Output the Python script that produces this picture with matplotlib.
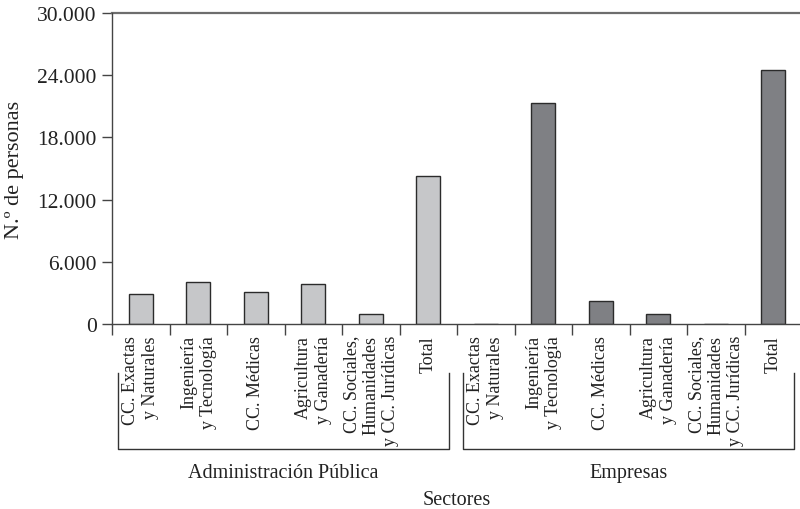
import numpy as np
import matplotlib
matplotlib.use("Agg")
import matplotlib.pyplot as plt
import matplotlib.transforms as mtransforms

plt.rcParams['font.family'] = ['Liberation Serif', 'DejaVu Serif']

# data
categorias = ["CC. Exactas\ny Naturales", "Ingeniería\ny Tecnología", "CC. Médicas",
              "Agricultura\ny Ganadería", "CC. Sociales,\nHumanidades\ny CC. Jurídicas", "Total"]
grupos = ["Administración Pública", "Empresas"]
admin_publica = [2900, 4020, 3090, 3830, 960, 14300]
empresas = [0, 21320, 2250, 930, 0, 24530]
yticks = [0, 6000, 12000, 18000, 24000, 30000]

color_admin = '#c6c7c9'
color_emp = '#7f8084'

fig = plt.figure(figsize=(8, 5.1), dpi=100)
ax = fig.add_axes([112/800, 185/510, 690/800, 311/510])

n = len(categorias)
x_admin = np.arange(n)
x_emp = np.arange(n) + n
ax.bar(x_admin, admin_publica, width=0.42, color=color_admin, edgecolor='#2b2b2b', linewidth=1, zorder=2)
ax.bar(x_emp, empresas, width=0.42, color=color_emp, edgecolor='#2b2b2b', linewidth=1, zorder=2)

ax.set_xlim(-0.5, 2 * n - 0.5)
ax.set_ylim(0, 30000)
ax.set_yticks(yticks)
ax.set_yticklabels([f"{v:,.0f}".replace(',', '.') for v in yticks], fontsize=15.5, color='#222222')
ax.tick_params(axis='y', direction='out', length=7, width=1, color='#444444', pad=4)

# boundary ticks (major, no labels) and centred labels (minor, no tick)
ax.set_xticks(np.arange(0, 2 * n + 1) - 0.5)
ax.set_xticklabels([])
ax.set_xticks(np.arange(2 * n), minor=True)
ax.set_xticklabels(categorias * 2, minor=True, rotation=90, fontsize=13,
                   va='top', ha='center', multialignment='right', color='#222222')
ax.tick_params(axis='x', which='major', direction='out', length=8, width=1, color='#444444')
ax.tick_params(axis='x', which='minor', length=0, pad=8)

ax.spines['right'].set_visible(False)
ax.spines['top'].set_color('#6d6d6d')
ax.spines['top'].set_linewidth(1.6)
for s in ['left', 'bottom']:
    ax.spines[s].set_color('#444444')
    ax.spines[s].set_linewidth(1)
    ax.spines[s].set_zorder(3)

# brackets for each group
trans = mtransforms.blended_transform_factory(ax.transData, ax.transAxes)
for i, nombre in enumerate(grupos):
    x0 = i * n - 0.4
    x1 = (i + 1) * n - 1 + 0.36
    ax.plot([x0, x0, x1, x1], [-0.158, -0.402, -0.402, -0.158], color='#333333',
            lw=1, transform=trans, clip_on=False)
    ax.text((x0 + x1) / 2, -0.476, nombre, transform=trans, ha='center', va='center',
            fontsize=14.5, color='#222222')

ax.set_xlabel('Sectores', fontsize=14.5, color='#222222')
ax.xaxis.set_label_coords(0.5, -0.535)
ax.set_ylabel('N.º de personas', fontsize=16, color='#222222')
ax.yaxis.set_label_coords(-0.128, 0.5)

fig.savefig('out.png', dpi=100)
